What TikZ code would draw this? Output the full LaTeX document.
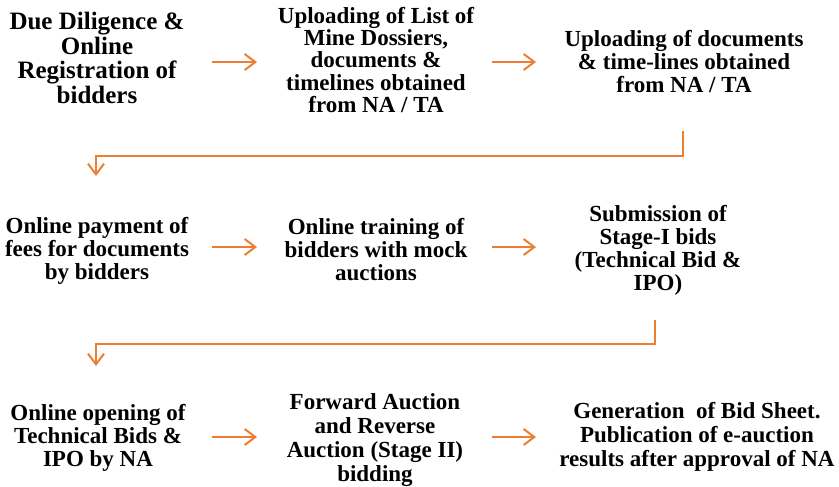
\documentclass[tikz,border=0pt]{standalone}
\usepackage{fontspec}
\setmainfont{Liberation Serif}
\usetikzlibrary{arrows.meta}
\definecolor{flow}{HTML}{ED7D31}
\tikzset{
  stage/.style={inner sep=0pt, align=center, font=\bfseries\fontsize{17.25}{17.25}\selectfont},
  bigstage/.style={stage, font=\bfseries\fontsize{18.75}{18.5}\selectfont},
  widestage/.style={stage, font=\bfseries\fontsize{17.25}{18}\selectfont},
  conn/.style={draw=flow, line width=1.5pt, -{Straight Barb[length=8pt,width=12pt,line width=1.5pt]}},
}
\begin{document}
\begin{tikzpicture}[x=0.75pt, y=-0.75pt]
\useasboundingbox (0,0) rectangle (839,486);

% first row
\node[bigstage] (s1) at (97,58) {Due Diligence \&\\Online\\Registration of\\bidders};
\node[stage, font=\bfseries\fontsize{17.25}{16.6}\selectfont] (s2) at (376,60) {Uploading of List of\\Mine Dossiers,\\documents \&\\timelines obtained\\from NA / TA};
\node[stage] (s3) at (684,62) {Uploading of documents\\\& time-lines obtained\\from NA / TA};

% second row
\node[stage] (s4) at (97,251) {Online payment of\\fees for documents\\by bidders};
\node[stage] (s5) at (376,250) {Online training of\\bidders with mock\\auctions};
\node[stage] (s6) at (658,250) {Submission of\\Stage-I bids\\(Technical Bid \&\\IPO)};

% third row
\node[stage] (s7) at (98,438) {Online opening of\\Technical Bids \&\\IPO by NA};
\node[widestage] (s8) at (375,440) {Forward Auction\\and Reverse\\Auction (Stage II)\\bidding};
\node[widestage] (s9) at (697,437) {Generation~ of Bid Sheet.\\Publication of e-auction\\results after approval of NA};

% arrow end points
\coordinate (a1) at (212,62);  \coordinate (b1) at (257,62);
\coordinate (a2) at (492,62);  \coordinate (b2) at (536,62);
\coordinate (a3) at (212,247); \coordinate (b3) at (257,247);
\coordinate (a4) at (492,247); \coordinate (b4) at (536,247);
\coordinate (a5) at (212,437); \coordinate (b5) at (257,437);
\coordinate (a6) at (492,437); \coordinate (b6) at (536,437);
\coordinate (r1) at (683,131); \coordinate (t1) at (96,176);
\coordinate (r2) at (655,320); \coordinate (t2) at (96,366);

\draw[conn] (a1) -- (b1);
\draw[conn] (a2) -- (b2);
\draw[conn] (a3) -- (b3);
\draw[conn] (a4) -- (b4);
\draw[conn] (a5) -- (b5);
\draw[conn] (a6) -- (b6);

% returns to the next row
\draw[conn] (r1) -- (683,156) -- (96,156) -- (t1);
\draw[conn] (r2) -- (655,344) -- (96,344) -- (t2);
\end{tikzpicture}
\end{document}
